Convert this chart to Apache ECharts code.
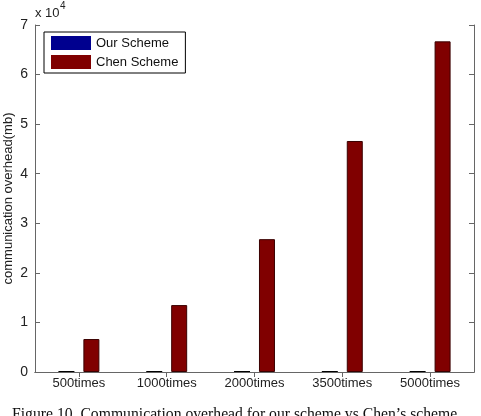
<!DOCTYPE html>
<html><head><meta charset="utf-8">
<script src="https://cdn.jsdelivr.net/npm/echarts@6/dist/echarts.min.js"></script>
<style>html,body{margin:0;padding:0;background:#fff}#c{width:481px;height:416px}</style>
</head><body><div id="c"></div>
<script>
const categories = ['500times','1000times','2000times','3500times','5000times'];
const ourScheme = [200, 200, 200, 200, 200];
const chenScheme = [6650, 13500, 26800, 46600, 66700];
const yTicks = [0,1,2,3,4,5,6,7];
const scale = 10000;

const chart = echarts.init(document.getElementById('c'));
const F = '"Liberation Sans", Arial, sans-serif';
const axisCol = '#666';
chart.setOption({
  animation: false,
  backgroundColor: '#fff',
  grid: {left: 35, right: 7, top: 25, bottom: 44, containLabel: false, outerBoundsMode: 'none'},
  legend: {
    orient: 'vertical', left: 44, top: 32, itemWidth: 40, itemHeight: 14, itemGap: 5, icon: 'rect',
    padding: [4, 7, 4, 7], borderColor: '#000', borderWidth: 1, backgroundColor: '#fff',
    textStyle: {fontFamily: F, fontSize: 13, color: '#111', padding: [0,0,0,0]},
    data: [
      {name: 'Our Scheme', itemStyle: {color: '#00008f', borderWidth: 0}},
      {name: 'Chen Scheme', itemStyle: {color: '#800000', borderWidth: 0}}
    ]
  },
  xAxis: [
    {type: 'category', data: categories, position: 'bottom',
     axisLine: {lineStyle: {color: axisCol}},
     axisTick: {inside: true, alignWithLabel: true, length: 5, lineStyle: {color: axisCol}},
     axisLabel: {fontFamily: F, fontSize: 13, color: '#222', margin: 5}},
    {type: 'category', data: categories, position: 'top',
     axisLine: {show: true, lineStyle: {color: axisCol}},
     axisTick: {show: true, inside: true, alignWithLabel: true, length: 5, lineStyle: {color: axisCol}},
     axisLabel: {show: false}}
  ],
  yAxis: [
    {type: 'value', min: 0, max: yTicks[yTicks.length-1]*scale, interval: scale, position: 'left',
     name: 'communication overhead(mb)', nameLocation: 'middle', nameGap: 20, nameMoveOverlap: false,
     nameTextStyle: {fontFamily: F, fontSize: 13, color: '#222'},
     axisLine: {show: true, lineStyle: {color: axisCol}},
     axisTick: {show: true, inside: true, length: 5, lineStyle: {color: axisCol}},
     splitLine: {show: false},
     axisLabel: {fontFamily: F, fontSize: 14, color: '#222', margin: 7, formatter: v => String(v/scale)}},
    {type: 'value', min: 0, max: yTicks[yTicks.length-1]*scale, interval: scale, position: 'right',
     axisLine: {show: true, lineStyle: {color: axisCol}},
     axisTick: {show: true, inside: true, length: 5, lineStyle: {color: axisCol}},
     splitLine: {show: false}, axisLabel: {show: false}}
  ],
  series: [
    {name: 'Our Scheme', type: 'bar', data: ourScheme, barWidth: 16, barGap: '56%',
     itemStyle: {color: '#000', borderColor: '#000', borderWidth: 0}},
    {name: 'Chen Scheme', type: 'bar', data: chenScheme, barWidth: 16, barGap: '56%',
     itemStyle: {color: '#800000', borderColor: '#3a0000', borderWidth: 1}}
  ],
  graphic: [
    {type: 'text', left: 35, top: 7, style: {text: 'x 10', font: '13px ' + F, fill: '#222'}},
    {type: 'text', left: 60, top: 1, style: {text: '4', font: '10px ' + F, fill: '#222'}},
    {type: 'text', left: 12, top: 407, style: {text: 'Figure 10. Communication overhead for our scheme vs Chen\u2019s scheme', font: '15.7px "Liberation Serif", "Times New Roman", serif', fill: '#111'}}
  ]
});
</script></body></html>
